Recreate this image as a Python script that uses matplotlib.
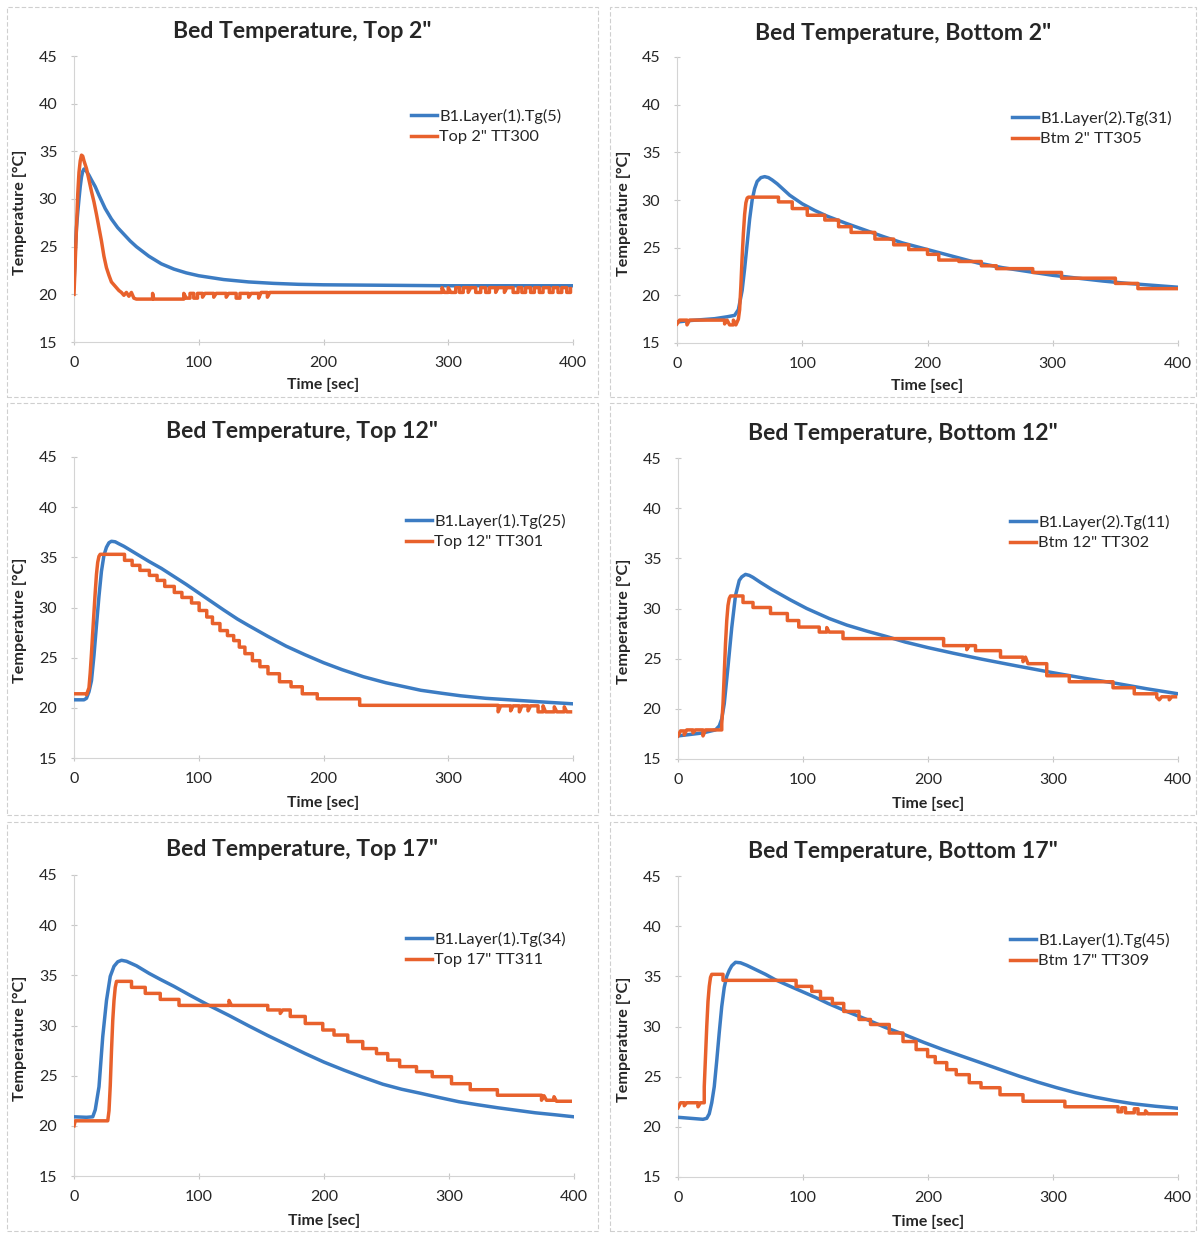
import matplotlib
matplotlib.use("Agg")
import matplotlib.pyplot as plt
from matplotlib.patches import Rectangle
from matplotlib.lines import Line2D

plt.rcParams['font.family'] = ['Lato', 'DejaVu Sans']

# ---------------- data (time [s], temperature [°C]) ----------------
titles = ['Bed Temperature, Top 2"', 'Bed Temperature, Bottom 2"',
          'Bed Temperature, Top 12"', 'Bed Temperature, Bottom 12"',
          'Bed Temperature, Top 17"', 'Bed Temperature, Bottom 17"']
sim_labels = ['B1.Layer(1).Tg(5)', 'B1.Layer(2).Tg(31)', 'B1.Layer(1).Tg(25)',
              'B1.Layer(2).Tg(11)', 'B1.Layer(1).Tg(34)', 'B1.Layer(1).Tg(45)']
meas_labels = ['Top 2" TT300', 'Btm 2" TT305', 'Top 12" TT301',
               'Btm 12" TT302', 'Top 17" TT311', 'Btm 17" TT309']
x_ticks = [0, 100, 200, 300, 400]
y_ticks = [15, 20, 25, 30, 35, 40, 45]

top2_sim = [(0, 21.0), (1, 24.5), (2, 27.0), (3, 28.6), (4, 30.0), (5, 31.3), (6, 32.3), (7, 32.9),
            (8, 33.15), (9, 33.1), (10, 32.9), (12, 32.5), (14, 32.0), (17, 31.3), (20, 30.4),
            (25, 29.0), (30, 27.9), (35, 27.0), (40, 26.3), (45, 25.6), (50, 25.0), (55, 24.5),
            (60, 24.0), (70, 23.2), (80, 22.65), (90, 22.25), (100, 21.95), (120, 21.55),
            (140, 21.3), (160, 21.15), (180, 21.05), (200, 21.0), (250, 20.95), (300, 20.9),
            (350, 20.9), (400, 20.9)]
top2_meas = [(0, 20.0), (1, 23.5), (2, 27.0), (3, 30.5), (4, 32.8), (5, 34.0), (6, 34.6), (7, 34.5),
             (8, 34.0), (10, 33.2), (12, 32.0), (14, 30.8), (16, 29.7), (18, 28.4), (20, 27.0),
             (22, 25.6), (24, 24.0), (26, 22.8), (28, 22.0), (30, 21.3), (32, 21.0), (34, 20.7),
             (36, 20.4), (38, 20.2), (40, 19.9), (42, 20.2), (44, 19.8), (46, 20.2), (48, 19.6),
             (50, 19.5), (63, 20.1), (64, 19.5), (88, 20.1), (90, 19.6), (93, 20.1), (96, 19.6),
             (99, 20.1), (103, 19.7), (105, 20.1), (112, 19.7), (114, 20.1), (122, 19.7),
             (124, 20.1), (130, 19.6), (133, 20.1), (140, 19.7), (142, 20.1), (148, 19.6),
             (150, 20.2), (155, 19.7), (157, 20.2), (295, 20.7), (297, 20.2), (300, 20.7),
             (302, 20.2), (306, 20.7), (309, 20.2), (312, 20.7), (316, 20.2), (318, 20.7),
             (322, 20.2), (326, 20.7), (330, 20.2), (333, 20.7), (338, 20.2), (340, 20.7),
             (345, 20.2), (347, 20.7), (352, 20.2), (356, 20.7), (359, 20.2), (362, 20.7),
             (366, 20.2), (369, 20.7), (373, 20.2), (376, 20.7), (381, 20.2), (384, 20.7),
             (388, 20.2), (391, 20.7), (395, 20.2), (398, 20.6)]

btm2_sim = [(0, 17.2), (10, 17.35), (20, 17.45), (30, 17.55), (40, 17.75), (46, 17.9), (49, 18.5),
            (52, 20.5), (54, 22.8), (56, 25.4), (58, 28.0), (60, 30.0), (62, 31.2), (64, 31.95),
            (67, 32.35), (70, 32.45), (73, 32.35), (76, 32.1), (80, 31.7), (90, 30.5), (100, 29.6),
            (110, 28.9), (120, 28.3), (135, 27.55), (150, 26.85), (165, 26.15), (180, 25.5),
            (200, 24.8), (220, 24.1), (240, 23.4), (260, 22.9), (280, 22.5), (300, 22.1),
            (320, 21.8), (340, 21.5), (360, 21.25), (380, 21.05), (400, 20.85)]
btm2_meas = [(0, 17.0), (2, 17.4), (8, 16.9), (10, 17.4), (38, 17.0), (40, 17.4), (42, 16.9),
             (45, 17.4), (47, 16.9), (49, 17.5), (50, 18.5), (51, 21.0), (52, 24.0), (53, 26.5),
             (54, 28.5), (55, 29.7), (56, 30.2), (57, 30.3), (81, 29.8), (92, 29.1), (104, 28.4),
             (118, 27.9), (129, 27.2), (139, 26.6), (158, 25.9), (173, 25.3), (185, 24.8),
             (200, 24.3), (209, 23.7), (225, 23.55), (243, 23.1), (255, 22.8), (284, 22.4),
             (307, 21.8), (350, 21.25), (368, 20.7), (399, 20.7)]

top12_sim = [(0, 20.8), (8, 20.8), (10, 20.95), (12, 21.6), (14, 22.7), (16, 25.2), (18, 28.2),
             (20, 31.1), (22, 33.6), (24, 35.2), (26, 36.0), (28, 36.45), (30, 36.6), (33, 36.55),
             (36, 36.35), (40, 36.1), (48, 35.5), (60, 34.6), (70, 33.9), (80, 33.1), (90, 32.3),
             (100, 31.45), (110, 30.6), (120, 29.75), (131, 28.85), (140, 28.2), (155, 27.15),
             (170, 26.15), (185, 25.3), (200, 24.5), (215, 23.8), (232, 23.1), (250, 22.5),
             (265, 22.1), (278, 21.75), (295, 21.45), (310, 21.2), (330, 20.95), (355, 20.75),
             (380, 20.55), (400, 20.4)]
top12_meas = [(0, 21.4), (10, 21.3), (12, 22.0), (13, 23.5), (14, 25.4), (15, 27.5), (16, 29.5),
              (17, 31.5), (18, 33.3), (19, 34.5), (20, 35.1), (21, 35.3), (40.5, 34.7), (46.6, 34.2),
              (52.8, 33.7), (60.4, 33.2), (66.6, 32.7), (72.7, 32.1), (80.4, 31.5), (86.5, 31.0),
              (94.2, 30.45), (100.3, 29.7), (106.4, 29.05), (111, 28.4), (117, 27.7), (123, 27.2),
              (128, 26.7), (132.5, 26.05), (137, 25.4), (143, 24.7), (149, 24.1), (155.5, 23.4),
              (164.7, 22.6), (174, 22.1), (183, 21.4), (195, 20.9), (229, 20.25), (340, 19.6),
              (342, 20.2), (350, 19.7), (352, 20.2), (357, 19.6), (359, 20.2), (364, 19.7),
              (366, 20.2), (372, 19.6), (376, 20.2), (378, 19.6), (385, 20.1), (387, 19.6),
              (393, 20.1), (395, 19.6), (398, 19.6)]

btm12_sim = [(0, 17.3), (10, 17.45), (20, 17.6), (30, 17.9), (33, 18.3), (35, 19.0), (37, 20.5),
             (40, 24.2), (43, 28.1), (46, 31.3), (49, 32.8), (51, 33.15), (54, 33.4), (57, 33.3),
             (60, 33.1), (66, 32.6), (75, 31.9), (90, 30.85), (103, 30.0), (121, 29.0),
             (135, 28.35), (151, 27.75), (167, 27.2), (182, 26.65), (200, 26.1), (220, 25.55),
             (243, 24.95), (270, 24.3), (300, 23.6), (325, 23.05), (350, 22.55), (375, 22.0),
             (400, 21.5)]
btm12_meas = [(0, 17.3), (2, 17.8), (5, 17.4), (7, 17.9), (12, 17.6), (14, 17.9), (20, 17.3),
              (22, 17.9), (35, 18.5), (36, 20.5), (37, 23.5), (38, 26.5), (39, 28.8), (40, 30.3),
              (41, 31.0), (42, 31.25), (52, 30.6), (60, 30.1), (74, 29.5), (87.5, 28.8),
              (96.6, 28.15), (113, 27.65), (119, 28.1), (121, 27.65), (132, 27.0), (212.5, 26.3),
              (231, 25.9), (233, 26.3), (238, 25.8), (258, 25.15), (276, 24.7), (278, 25.15),
              (280, 24.5), (295, 23.3), (313, 22.7), (348, 22.1), (365, 21.5), (383, 21.15),
              (385, 20.9), (387, 21.2), (393, 20.9), (395, 21.2), (398, 21.2)]

top17_sim = [(0, 20.9), (10, 20.85), (15, 20.9), (17, 21.6), (20, 23.9), (23, 28.9), (26, 32.5),
             (29, 34.9), (32, 35.9), (35, 36.35), (38, 36.5), (42, 36.4), (50, 35.95), (60, 35.2),
             (69, 34.6), (80, 33.9), (93, 33.0), (108, 32.0), (124, 31.0), (140, 29.95),
             (155, 29.0), (170, 28.1), (185, 27.2), (200, 26.35), (216, 25.55), (231, 24.85),
             (247, 24.15), (262, 23.65), (277, 23.25), (293, 22.8), (308, 22.4), (323, 22.1),
             (339, 21.8), (354, 21.55), (369, 21.3), (385, 21.1), (400, 20.9)]
top17_meas = [(0, 20.0), (1, 20.5), (27, 20.5), (28, 21.5), (29, 24.0), (30, 27.5), (31, 30.5),
              (32, 32.5), (33, 33.8), (34, 34.4), (46, 33.8), (57, 33.2), (69, 32.6), (84, 32.0),
              (124, 32.5), (126, 32.0), (155, 31.55), (165, 31.2), (167, 31.55), (173, 30.9),
              (185, 30.2), (199, 29.55), (208, 29.05), (219, 28.4), (231, 27.7), (242, 27.2),
              (251, 26.55), (260.5, 25.9), (274, 25.4), (286.6, 24.9), (302, 24.2), (317, 23.6),
              (338.7, 23.05), (374, 22.55), (376, 23.0), (378, 22.55), (384, 22.9), (386, 22.45),
              (397, 22.45)]

btm17_sim = [(0, 20.95), (10, 20.85), (20, 20.75), (23, 20.85), (25, 21.3), (27, 22.4), (29, 24.0),
             (31, 26.6), (33, 29.4), (35, 32.0), (37, 33.9), (39, 35.0), (41, 35.6), (43, 36.05),
             (46, 36.4), (50, 36.35), (55, 36.1), (60, 35.8), (70, 35.2), (78, 34.65), (88, 34.1),
             (99, 33.5), (110, 32.9), (120, 32.3), (135, 31.5), (151, 30.7), (166, 29.9),
             (181, 29.2), (197, 28.4), (212, 27.7), (227, 27.05), (242, 26.4), (258, 25.7),
             (273, 25.05), (288, 24.45), (303, 23.9), (318, 23.4), (334, 22.95), (349, 22.6),
             (364, 22.3), (382, 22.05), (400, 21.85)]
btm17_meas = [(0, 21.9), (2, 22.4), (5, 22.1), (7, 22.4), (16, 22.0), (18, 22.4), (21, 24.0),
              (22, 27.0), (23, 30.0), (24, 32.5), (25, 34.0), (26, 34.9), (27, 35.2), (36, 34.6),
              (94.5, 34.0), (107, 33.5), (114, 32.8), (123.5, 32.3), (132.6, 31.5), (144.8, 30.7),
              (154, 30.2), (169, 29.35), (180, 28.5), (190.5, 27.7), (199.7, 27.0), (205.8, 26.4),
              (215, 25.7), (222.6, 25.2), (233, 24.4), (242.4, 23.9), (257.6, 23.2), (276, 22.55),
              (309.5, 22.0), (352, 21.5), (355, 21.9), (358, 21.4), (365, 21.8), (368, 21.3),
              (374, 21.6), (376, 21.3), (399, 21.3)]

sim_series = [top2_sim, btm2_sim, top12_sim, btm12_sim, top17_sim, btm17_sim]
meas_series = [top2_meas, btm2_meas, top12_meas, btm12_meas, top17_meas, btm17_meas]

# ---------------- layout (pixels) ----------------
W, H = 1198, 1233
BLUE = '#3C7CC3'
ORANGE = '#E8612C'
TXT = '#262626'

layout = [
    dict(ax=(74, 573, 56, 342), border=(7, 598, 7, 397), ty=32, xly=385, ylx=20, leg=(411, 109)),
    dict(ax=(677, 1178, 57, 343), border=(610, 1196, 7, 397), ty=33, xly=386, ylx=624, leg=(1012, 111)),
    dict(ax=(74, 573, 457, 758), border=(7, 598, 403, 815), ty=432, xly=803, ylx=20, leg=(406, 514)),
    dict(ax=(678, 1178, 458, 759), border=(610, 1196, 403, 815), ty=433, xly=804, ylx=624, leg=(1010, 515)),
    dict(ax=(74, 574, 875, 1176), border=(7, 598, 822, 1231), ty=850, xly=1221, ylx=20, leg=(406, 932)),
    dict(ax=(678, 1178, 876, 1177), border=(610, 1196, 822, 1231), ty=851, xly=1222, ylx=624, leg=(1010, 933)),
]

fig = plt.figure(figsize=(W / 100, H / 100), dpi=100)
fig.patch.set_facecolor('white')


def fx(px):
    return px / W


def fy(py):
    return 1 - py / H


def logger_path(pts, hold_gap=2.5):
    """Sampled logger readings: a reading is held until the next one when
    samples are sparse; closely spaced samples are joined directly."""
    xs, ys = [pts[0][0]], [pts[0][1]]
    for (t0, v0), (t1, v1) in zip(pts, pts[1:]):
        if t1 - t0 > hold_gap:
            xs.append(t1)
            ys.append(v0)
        xs.append(t1)
        ys.append(v1)
    return xs, ys


for i, L in enumerate(layout):
    l, r, t, b = L['ax']
    ax = fig.add_axes([fx(l), fy(b), (r - l) / W, (b - t) / H])
    st, sv = zip(*sim_series[i])
    mt, mv = logger_path(meas_series[i])
    ax.plot(st, sv, color=BLUE, lw=2.5, zorder=3)
    ax.plot(mt, mv, color=ORANGE, lw=2.5, zorder=4)
    ax.set_xlim(0, 400)
    ax.set_ylim(15, 45)
    ax.set_xticks(x_ticks)
    ax.set_yticks(y_ticks)
    for s in ['top', 'right']:
        ax.spines[s].set_visible(False)
    for s in ['left', 'bottom']:
        ax.spines[s].set_color('#D4D4D4')
        ax.spines[s].set_linewidth(0.8)
    ax.tick_params(axis='both', direction='inout', length=4, width=0.8, color='#C8C8C8',
                   labelsize=11.5, labelcolor=TXT)
    ax.tick_params(axis='y', pad=10)
    ax.tick_params(axis='x', pad=8)
    ax.set_facecolor('none')

    lx, ltop = L['leg']
    handles = [Line2D([], [], color=BLUE, lw=2.5), Line2D([], [], color=ORANGE, lw=2.5)]
    ax.legend(handles, [sim_labels[i], meas_labels[i]], loc='upper left',
              bbox_to_anchor=((lx - l) / (r - l), 1 - (ltop - t) / (b - t)),
              frameon=False, borderpad=0, borderaxespad=0, handlelength=1.6,
              handletextpad=0.12, labelspacing=0.36, fontsize=11.75, labelcolor=TXT)

    bl, br, bt, bb = L['border']
    fig.patches.append(Rectangle((fx(bl), fy(bb)), (br - bl) / W, (bb - bt) / H,
                                 transform=fig.transFigure, fill=False, edgecolor='#CFCFCF',
                                 lw=0.8, ls=(0, (4, 2))))
    fig.text(fx((bl + br) / 2), fy(L['ty']), titles[i], ha='center', va='center',
             fontsize=16.6, fontweight='bold', color=TXT)
    fig.text(fx((l + r) / 2), fy(L['xly']), 'Time [sec]', ha='center', va='center',
             fontsize=11.4, fontweight='bold', color=TXT)
    fig.text(fx(L['ylx']), fy((t + b) / 2 + 13), 'Temperature [°C]', ha='center', va='center',
             rotation=90, fontsize=11.6, fontweight='bold', color=TXT)

fig.savefig('out.png', dpi=100, facecolor='white')
